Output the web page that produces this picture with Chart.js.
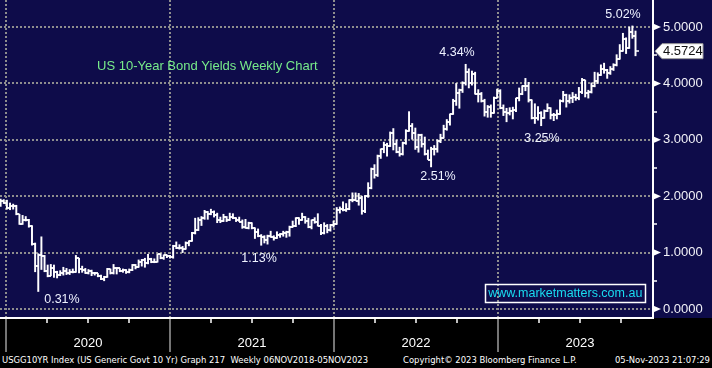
<!DOCTYPE html>
<html>
<head>
<meta charset="utf-8">
<script src="https://cdn.jsdelivr.net/npm/chart.js@4.4.0/dist/chart.umd.min.js"></script>
<style>
  html, body { margin: 0; padding: 0; background: #000; }
  #wrap { position: relative; width: 712px; height: 368px; overflow: hidden; background: #000; }
  canvas { display: block; }
  #footer { position: absolute; left: 0; top: 352px; width: 712px; height: 16px; color: #fff;
    font: 9.4px "DejaVu Sans Condensed", "Liberation Sans", sans-serif; line-height: 16px; white-space: nowrap; }
  #footer span { position: absolute; top: 0; }
</style>
</head>
<body>
<div id="wrap">
  <canvas id="yieldChart" width="712" height="352"></canvas>
  <div id="footer">
    <span style="left:2px">USGG10YR Index (US Generic Govt 10 Yr) Graph 217&nbsp; Weekly 06NOV2018-05NOV2023</span>
    <span style="left:403px">Copyright© 2023 Bloomberg Finance L.P.</span>
    <span style="right:2px">05-Nov-2023 21:07:29</span>
  </div>
</div>
<script>
"use strict"

// weekly bars, week ending on a Friday, starting here
const firstWeekEnd = '2019-12-20';

const weekCloses = [
  1.92, 1.88,
  // 2020
  1.79, 1.82, 1.83, 1.68, 1.51, 1.58, 1.58, 1.47, 1.15, 0.76, 0.96, 0.94, 0.68,
  0.59, 0.72, 0.65, 0.60, 0.64, 0.68, 0.64, 0.66, 0.65, 0.90, 0.71, 0.69, 0.64,
  0.67, 0.64, 0.63, 0.59, 0.53, 0.56, 0.71, 0.64, 0.72, 0.72, 0.67, 0.69, 0.66,
  0.70, 0.78, 0.74, 0.84, 0.87, 0.82, 0.89, 0.83, 0.84, 0.97, 0.90, 0.95, 0.94,
  // 2021
  0.92, 1.12, 1.09, 1.09, 1.07, 1.17, 1.20, 1.34, 1.40, 1.57, 1.62, 1.72, 1.68,
  1.72, 1.66, 1.58, 1.56, 1.63, 1.58, 1.63, 1.62, 1.58, 1.55, 1.45, 1.44, 1.52,
  1.43, 1.36, 1.30, 1.28, 1.22, 1.30, 1.28, 1.26, 1.31, 1.33, 1.34, 1.37, 1.46,
  1.47, 1.61, 1.58, 1.64, 1.56, 1.45, 1.57, 1.54, 1.48, 1.34, 1.48, 1.40, 1.49, 1.51,
  // 2022
  1.76, 1.78, 1.75, 1.78, 1.93, 1.94, 1.92, 1.97, 1.74, 2.00, 2.15, 2.48,
  2.38, 2.72, 2.83, 2.90, 2.89, 3.13, 2.93, 2.78, 2.74, 2.94, 3.16, 3.24, 3.13,
  2.88, 3.08, 2.92, 2.75, 2.65, 2.83, 2.84, 2.98, 3.04, 3.19, 3.31, 3.45, 3.69, 3.83,
  3.89, 4.01, 4.21, 4.01, 4.16, 3.81, 3.82, 3.68, 3.49, 3.58, 3.48, 3.75, 3.87,
  // 2023
  3.56, 3.50, 3.48, 3.51, 3.53, 3.74, 3.82, 3.95, 3.96, 3.70, 3.39, 3.38, 3.47,
  3.39, 3.52, 3.57, 3.44, 3.44, 3.46, 3.68, 3.80, 3.69, 3.74, 3.76, 3.74, 3.84,
  4.06, 3.83, 3.84, 3.95, 4.04, 4.15, 4.25, 4.24, 4.18, 4.26, 4.33, 4.43, 4.57,
  4.78, 4.63, 4.91, 4.84, 4.5724
];

const weekHighs = [
  1.95, 1.94,
  1.93, 1.88, 1.86, 1.84, 1.68, 1.66, 1.64, 1.59, 1.48, 1.17, 0.98, 1.28, 0.95,
  0.78, 0.79, 0.78, 0.67, 0.68, 0.74, 0.72, 0.70, 0.71, 0.95, 0.90, 0.76, 0.72,
  0.70, 0.69, 0.65, 0.63, 0.60, 0.58, 0.72, 0.71, 0.79, 0.73, 0.72, 0.71, 0.70,
  0.71, 0.79, 0.79, 0.87, 0.88, 0.90, 0.97, 0.90, 0.89, 0.97, 0.98, 0.96, 0.96,
  0.95, 1.13, 1.19, 1.14, 1.11, 1.19, 1.21, 1.36, 1.61, 1.62, 1.64, 1.75, 1.73,
  1.77, 1.74, 1.70, 1.63, 1.68, 1.64, 1.70, 1.69, 1.62, 1.63, 1.58, 1.59, 1.54,
  1.53, 1.44, 1.42, 1.32, 1.30, 1.31, 1.38, 1.30, 1.37, 1.34, 1.38, 1.38, 1.47,
  1.56, 1.62, 1.62, 1.70, 1.64, 1.61, 1.58, 1.62, 1.69, 1.50, 1.53, 1.50, 1.50, 1.56,
  1.80, 1.81, 1.90, 1.87, 1.94, 2.06, 2.06, 2.05, 2.00, 2.01, 2.24, 2.50,
  2.56, 2.73, 2.84, 2.96, 2.94, 3.14, 3.20, 3.00, 2.87, 2.96, 3.18, 3.50, 3.29,
  3.21, 3.10, 3.10, 3.05, 2.82, 2.87, 2.90, 3.00, 3.10, 3.26, 3.36, 3.46, 3.72, 4.00,
  3.90, 4.03, 4.34, 4.26, 4.22, 4.20, 3.89, 3.84, 3.72, 3.61, 3.62, 3.76, 3.90,
  3.89, 3.62, 3.56, 3.57, 3.58, 3.74, 3.92, 3.96, 4.09, 4.02, 3.71, 3.64, 3.59,
  3.50, 3.53, 3.64, 3.57, 3.47, 3.53, 3.71, 3.86, 3.81, 3.80, 3.84, 3.81, 3.93,
  4.09, 4.06, 3.88, 4.01, 4.20, 4.19, 4.33, 4.36, 4.25, 4.30, 4.35, 4.51, 4.69,
  4.89, 4.81, 5.00, 5.02, 4.93
];

const weekLows = [
  1.82, 1.87,
  1.77, 1.76, 1.77, 1.67, 1.50, 1.50, 1.56, 1.45, 1.13, 0.66, 0.31, 0.70, 0.66,
  0.57, 0.59, 0.56, 0.55, 0.59, 0.60, 0.61, 0.61, 0.64, 0.65, 0.64, 0.65, 0.63,
  0.62, 0.59, 0.60, 0.57, 0.52, 0.50, 0.56, 0.62, 0.62, 0.62, 0.66, 0.65, 0.63,
  0.64, 0.68, 0.71, 0.74, 0.76, 0.74, 0.80, 0.82, 0.82, 0.83, 0.89, 0.88, 0.91,
  0.90, 0.90, 1.07, 1.06, 1.00, 1.06, 1.12, 1.20, 1.33, 1.39, 1.48, 1.59, 1.59,
  1.67, 1.63, 1.53, 1.53, 1.55, 1.55, 1.57, 1.60, 1.55, 1.55, 1.43, 1.43, 1.42,
  1.42, 1.25, 1.28, 1.13, 1.17, 1.15, 1.27, 1.22, 1.25, 1.27, 1.29, 1.27, 1.29,
  1.45, 1.46, 1.50, 1.57, 1.52, 1.44, 1.42, 1.52, 1.47, 1.32, 1.33, 1.35, 1.38, 1.45,
  1.50, 1.70, 1.74, 1.73, 1.76, 1.90, 1.92, 1.84, 1.68, 1.71, 1.98, 2.13,
  2.32, 2.35, 2.67, 2.77, 2.71, 2.88, 2.82, 2.77, 2.71, 2.73, 2.92, 3.15, 3.01,
  2.83, 2.78, 2.87, 2.73, 2.65, 2.52, 2.73, 2.78, 2.95, 3.03, 3.17, 3.26, 3.45, 3.61,
  3.56, 3.84, 3.97, 3.92, 3.97, 3.81, 3.67, 3.67, 3.42, 3.40, 3.40, 3.47, 3.74,
  3.55, 3.43, 3.32, 3.44, 3.37, 3.50, 3.69, 3.80, 3.87, 3.67, 3.37, 3.29, 3.35,
  3.25, 3.38, 3.50, 3.37, 3.34, 3.37, 3.45, 3.67, 3.58, 3.65, 3.66, 3.70, 3.71,
  3.82, 3.76, 3.74, 3.83, 3.94, 4.00, 4.14, 4.18, 4.09, 4.16, 4.23, 4.31, 4.43,
  4.57, 4.53, 4.62, 4.80, 4.49
];

const yearTicks = [2020, 2021, 2022, 2023];
const yTicks = [0, 1, 2, 3, 4, 5];
const lastValue = 4.5724;

const chartTitle = 'US 10-Year Bond Yields Weekly Chart';
const calloutTexts = ['5.02%', '4.34%', '3.25%', '2.51%', '1.13%', '0.31%'];
const watermark = 'www.marketmatters.com.au';

// where the notes sit, in axis units (decimal year, yield)
const calloutPlaces = [[2023.762, 5.23], [2022.75, 4.54], [2023.268, 3.03], [2022.634, 2.34], [2021.543, 0.90], [2020.341, 0.16]];
const titlePlace = [2020.555, 4.31];
const watermarkPlace = [2023.41, 0.283];

const NAVY = '#0e0c4a';
const GRID = '#8e8e8e';
const FONT = '"Liberation Sans", Arial, sans-serif';

function decimalYear(ms) {
  let y = new Date(ms).getUTCFullYear();
  let a = Date.UTC(y, 0, 1), b = Date.UTC(y + 1, 0, 1);
  return y + (ms - a) / (b - a);
}

let start = Date.parse(firstWeekEnd + 'T00:00:00Z');
let weekX = weekCloses.map((c, i) => decimalYear(start + i * 7 * 86400000));

let rangeData = weekX.map((x, i) => ({x: x, y: [weekLows[i], weekHighs[i]]}));
let closeData = weekX.map((x, i) => ({x: x, y: weekCloses[i]}));
// open of a week = close of the week before
let openData = weekX.slice(1).map((x, i) => ({x: x, y: weekCloses[i]}));

function tickImage(side) {
  let c = document.createElement('canvas');
  c.width = 6;
  c.height = 2;
  let g = c.getContext('2d');
  g.fillStyle = '#ffffff';
  g.fillRect(side == 'right' ? 3 : 0, 0.25, 3, 1.5);
  return c;
}

let quarterTicks = [];
yearTicks.forEach(y => [0, 0.25, 0.5, 0.75].forEach(q => quarterTicks.push(y + q)));
let yMinor = [];
yTicks.forEach(v => { yMinor.push(v); if (v < yTicks[yTicks.length - 1]) yMinor.push(v + 0.5); });

const isWhole = v => Math.abs(v - Math.round(v)) < 1e-6;
const isMid = v => Math.abs(v - Math.floor(v) - 0.5) < 1e-6;

const decor = {
  id: 'decor',
  beforeDraw(chart) {
    let ctx = chart.ctx;
    ctx.save();
    ctx.fillStyle = NAVY;
    ctx.fillRect(0, 0, chart.width, chart.chartArea.bottom);
    ctx.restore();
  },
  afterDraw(chart) {
    let {ctx, chartArea} = chart;
    let xs = chart.scales.x, ys = chart.scales.y;
    ctx.save();

    // arrow heads on the major y ticks
    ctx.fillStyle = '#ffffff';
    yTicks.forEach(v => {
      let py = ys.getPixelForValue(v);
      ctx.beginPath();
      ctx.moveTo(chartArea.right, py - 3.5);
      ctx.lineTo(chartArea.right + 8, py);
      ctx.lineTo(chartArea.right, py + 3.5);
      ctx.closePath();
      ctx.fill();
    });

    // last value tag
    let ty = ys.getPixelForValue(lastValue);
    let tx = chartArea.right + 2;
    ctx.beginPath();
    ctx.moveTo(tx, ty);
    ctx.lineTo(tx + 7, ty - 7.5);
    ctx.lineTo(703, ty - 7.5);
    ctx.lineTo(703, ty + 7.5);
    ctx.lineTo(tx + 7, ty + 7.5);
    ctx.closePath();
    ctx.fillStyle = '#ffffff';
    ctx.fill();
    ctx.strokeStyle = '#9a9a9a';
    ctx.lineWidth = 1;
    ctx.stroke();
    ctx.fillStyle = '#111111';
    ctx.font = '13px ' + FONT;
    ctx.textAlign = 'left';
    ctx.textBaseline = 'middle';
    ctx.fillText(lastValue.toFixed(4), tx + 8, ty + 0.5);

    // callouts
    ctx.fillStyle = '#eef2ff';
    ctx.font = '12.5px ' + FONT;
    ctx.textAlign = 'center';
    calloutTexts.forEach((t, i) => {
      ctx.fillText(t, xs.getPixelForValue(calloutPlaces[i][0]), ys.getPixelForValue(calloutPlaces[i][1]));
    });

    // title
    ctx.fillStyle = '#78ec8a';
    ctx.font = '13px ' + FONT;
    ctx.textAlign = 'left';
    ctx.fillText(chartTitle, xs.getPixelForValue(titlePlace[0]), ys.getPixelForValue(titlePlace[1]));

    // watermark box
    ctx.font = '12.5px ' + FONT;
    let w = ctx.measureText(watermark).width;
    let cx = xs.getPixelForValue(watermarkPlace[0]), cy = ys.getPixelForValue(watermarkPlace[1]);
    ctx.strokeStyle = '#ffffff';
    ctx.lineWidth = 1.5;
    ctx.strokeRect(Math.round(cx - w / 2 - 3) + 0.5, Math.round(cy - 9) + 0.5, Math.round(w + 6), 18);
    ctx.fillStyle = '#19dcf0';
    ctx.textAlign = 'center';
    ctx.fillText(watermark, cx, cy + 0.5);
    ctx.restore();
  }
};

let chart = new Chart(document.getElementById('yieldChart'), {
  type: 'bar',
  data: {
    datasets: [{
      data: rangeData,
      backgroundColor: '#ffffff',
      borderWidth: 0,
      barThickness: 1.3,
      grouped: false,
      order: 3
    }, {
      type: 'line',
      data: openData,
      showLine: false,
      pointStyle: tickImage('left'),
      pointRadius: 2,
      order: 2
    }, {
      type: 'line',
      data: closeData,
      showLine: false,
      pointStyle: tickImage('right'),
      pointRadius: 2,
      order: 1
    }]
  },
  options: {
    responsive: false,
    devicePixelRatio: 1,
    animation: false,
    layout: {padding: 0, autoPadding: false},
    plugins: {legend: {display: false}, tooltip: {enabled: false}},
    scales: {
      x: {
        type: 'linear',
        min: 2019.9634,
        max: 2023.945,
        offset: false,
        afterBuildTicks: s => { s.ticks = quarterTicks.map(v => ({value: v})); },
        afterFit: s => { s.height = 34; s.paddingLeft = 0; s.paddingRight = 0; },
        grid: {
          offset: false,
          color: c => isWhole(c.tick.value) ? GRID : 'rgba(0,0,0,0)',
          lineWidth: 2,
          tickLength: 34,
          tickWidth: 1.5,
          tickColor: c => isWhole(c.tick.value) ? '#9c9c9c' : '#ffffff',
          tickBorderDash: c => isWhole(c.tick.value) ? [] : [4, 80]
        },
        border: {color: '#ffffff', width: 2, dash: [2, 2]},
        ticks: {
          autoSkip: false,
          maxRotation: 0,
          padding: -16,
          color: '#ffffff',
          font: {family: FONT, size: 13},
          callback: v => isMid(v) ? String(Math.floor(v)) : ''
        }
      },
      y: {
        position: 'right',
        min: -0.16,
        max: 5.48,
        afterBuildTicks: s => { s.ticks = yMinor.map(v => ({value: v})); },
        afterFit: s => { s.width = 59; s.paddingTop = 0; s.paddingBottom = 0; },
        grid: {
          color: c => isWhole(c.tick.value) ? GRID : 'rgba(0,0,0,0)',
          lineWidth: 2,
          tickLength: 4,
          tickWidth: 1.5,
          tickColor: '#ffffff',
          tickBorderDash: []
        },
        border: {color: '#ffffff', width: 2, dash: [2, 2]},
        ticks: {
          autoSkip: false,
          padding: 6,
          color: '#f2f2f8',
          font: {family: FONT, size: 13},
          callback: v => isWhole(v) ? v.toFixed(4) : ''
        }
      }
    }
  },
  plugins: [decor]
});
</script>
</body>
</html>
